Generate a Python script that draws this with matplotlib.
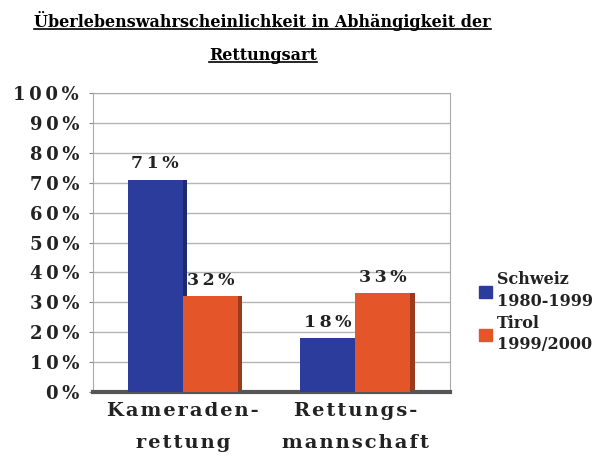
import matplotlib.pyplot as plt
import numpy as np
from matplotlib.lines import Line2D

CATEGORIES = ['Kameraden-\nrettung', 'Rettungs-\nmannschaft']
SERIES = ['Schweiz\n1980-1999', 'Tirol\n1999/2000']
VALUES = [[71, 18], [32, 33]]
COLORS = ['#2b3c9c', '#e4562a']
SHADES = ['#1d2a6e', '#9c3a1c']
YTICKS = [0, 10, 20, 30, 40, 50, 60, 70, 80, 90, 100]

FONT = 'DejaVu Serif'


def spaced(s, gap='\u2009'):
    # letter spacing like the original slide
    return '\n'.join(gap.join(line) for line in s.split('\n'))


fig = plt.figure(figsize=(6.04, 4.59), dpi=100)
ax = fig.add_axes([0.154, 0.146, 0.591, 0.651])

x = np.arange(len(CATEGORIES))
w = 0.32
for i, (vals, col, sh) in enumerate(zip(VALUES, COLORS, SHADES)):
    pos = x + (i - 0.5) * w
    ax.bar(pos + 0.025, vals, width=w, color=sh, zorder=2)
    ax.bar(pos, vals, width=w, color=col, zorder=3)
    for p, v in zip(pos, vals):
        ax.text(p, v + 2.5, spaced(f'{v}%'), ha='center', va='bottom', fontsize=12.5,
                fontweight='bold', family=FONT, color='#222222', zorder=4)

ax.set_xlim(-0.52, 1.55)
ax.set_ylim(0, 100)
ax.set_yticks(YTICKS)
ax.set_yticklabels([spaced(f'{t}%') for t in YTICKS], fontsize=13, fontweight='bold',
                   family=FONT, color='#222222')
ax.set_xticks(x)
ax.set_xticklabels([spaced(c, '\u200a') for c in CATEGORIES], fontsize=14,
                   fontweight='bold', family=FONT, color='#222222', linespacing=2.0)
ax.tick_params(axis='x', length=0, pad=7)
ax.tick_params(axis='y', length=3, color='#888888', pad=7)
ax.grid(axis='y', color='#b5b5b5', lw=1, zorder=0)
for s in ['left', 'right', 'top']:
    ax.spines[s].set_color('#aaaaaa')
ax.spines['bottom'].set_color('#555555')
ax.spines['bottom'].set_linewidth(3)

# legend
handles = [plt.Rectangle((0, 0), 1, 1, color=c) for c in COLORS]
leg = fig.legend(handles, SERIES, loc='upper left',
                 bbox_to_anchor=(0.77, 0.44), frameon=False,
                 prop={'family': FONT, 'weight': 'bold', 'size': 11.5},
                 handlelength=0.8, handleheight=0.8, handletextpad=0.3,
                 labelspacing=0.3)
for t in leg.get_texts():
    t.set_color('#222222')
    t.set_linespacing(1.35)

# title with underline
t1 = fig.text(0.435, 0.955, 'Überlebenswahrscheinlichkeit in Abhängigkeit der',
              ha='center', va='center', fontsize=11.5, fontweight='bold', family=FONT)
t2 = fig.text(0.435, 0.88, 'Rettungsart', ha='center', va='center', fontsize=11.5,
              fontweight='bold', family=FONT)
fig.canvas.draw()
r = fig.canvas.get_renderer()
inv = fig.transFigure.inverted()
for t in (t1, t2):
    bb = t.get_window_extent(r).transformed(inv)
    fig.add_artist(Line2D([bb.x0, bb.x1], [bb.y0 + 0.004, bb.y0 + 0.004],
                          color='black', lw=1.2, transform=fig.transFigure))

fig.savefig('out.png', dpi=100)
